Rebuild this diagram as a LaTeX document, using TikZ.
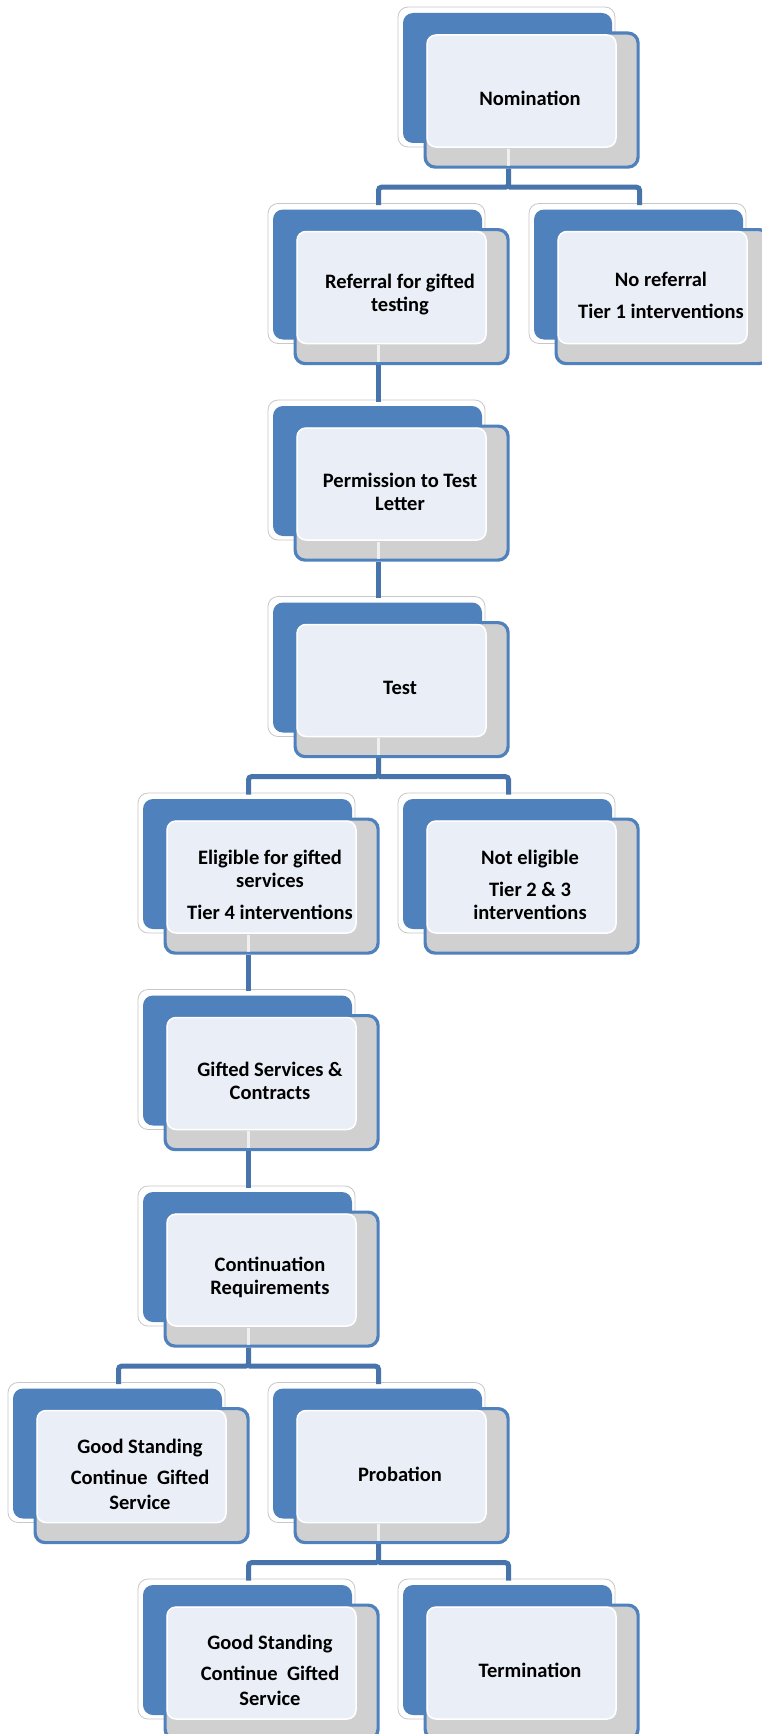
\documentclass[tikz,border=0pt]{standalone}
\usepackage{fontspec}
\setmainfont{Carlito}
\usetikzlibrary{calc}
\definecolor{sblue}{RGB}{79,129,189}
\definecolor{sgray}{RGB}{208,208,208}
\definecolor{slight}{RGB}{234,239,247}
\definecolor{sconn}{RGB}{72,116,172}
\definecolor{sedge}{RGB}{200,200,200}
\tikzset{
 backbox/.style={fill=white,draw=sedge,line width=0.8pt,rounded corners=10pt},
 bluebox/.style={fill=sblue,rounded corners=10pt},
 frontbox/.style={fill=sgray,draw=sblue,line width=3.2pt,rounded corners=10pt,minimum width=213pt,minimum height=134pt,inner sep=0pt,anchor=north west},
 innerbox/.style={fill=slight,draw=white,line width=1.5pt,rounded corners=9pt},
 boxtext/.style={align=center,font=\bfseries\fontsize{20.5}{23}\selectfont,inner sep=0pt,text=black},
 conn/.style={draw=sconn,line width=5pt,rounded corners=3pt},
 connlight/.style={draw=white,line width=3pt,opacity=0.7},
}
\newcommand{\gbox}[4]{%
 \draw[backbox] (#2-24,#3-23) rectangle (#2+193,#3+117);
 \fill[bluebox] (#2-19,#3-17) rectangle (#2+190,#3+113);
 \node[frontbox] (#1) at (#2+1.5,#3+1.5) {};
 \draw[innerbox] (#2+5,#3+5) rectangle (#2+194,#3+117);
 \node[boxtext] (#1-t) at (#2+108,#3+68.5) {#4};
}
\newcommand{\clight}[1]{\draw[connlight] ($(#1.south west)+(85,-20)$) -- ($(#1.south west)+(85,-3)$);}
\newcommand{\cdown}[2]{\draw[conn] ($(#1.south west)+(85,0)$) -- ($(#2.north west)+(85,-23)$);\clight{#1}}
\newcommand{\cbranch}[3]{%
 \draw[conn] ($(#1.south west)+(85,0)$) -- ++(0,18.5) -| ($(#2.north west)+(85,-23)$);
 \draw[conn] ($(#1.south west)+(85,18.5)$) -| ($(#3.north west)+(85,-23)$);
 \clight{#1}}
\begin{document}
\begin{tikzpicture}[x=1pt,y=-1pt]
\useasboundingbox (0,0) rectangle (762,1734);
\fill[white] (0,0) rectangle (762,1734);
\clip (0,0) rectangle (762,1734);
\gbox{nom}{422}{30}{Nomination}
\gbox{ref}{292}{226.5}{Referral for gifted\\testing}
\gbox{noref}{553}{226.5}{No referral\\[9pt]Tier 1 interventions}
\gbox{perm}{292}{423}{Permission to Test\\Letter}
\gbox{test}{292}{619.5}{Test}
\gbox{elig}{162}{816}{Eligible for gifted\\services\\[9pt]Tier 4 interventions}
\gbox{nelig}{422}{816}{Not eligible\\[9pt]Tier 2 \& 3\\interventions}
\gbox{gserv}{162}{1012.5}{Gifted Services \&\\Contracts}
\gbox{cont}{162}{1209}{Continuation\\Requirements}
\gbox{good}{32}{1405.5}{Good Standing\\[8pt]Continue\ \ Gifted\\[2pt]Service}
\gbox{prob}{292}{1405.5}{Probation}
\gbox{goodb}{162}{1602}{Good Standing\\[8pt]Continue\ \ Gifted\\[2pt]Service}
\gbox{term}{422}{1602}{Termination}
\cbranch{nom}{ref}{noref}
\cdown{ref}{perm}
\cdown{perm}{test}
\cbranch{test}{elig}{nelig}
\cdown{elig}{gserv}
\cdown{gserv}{cont}
\cbranch{cont}{good}{prob}
\cbranch{prob}{goodb}{term}
\end{tikzpicture}
\end{document}
